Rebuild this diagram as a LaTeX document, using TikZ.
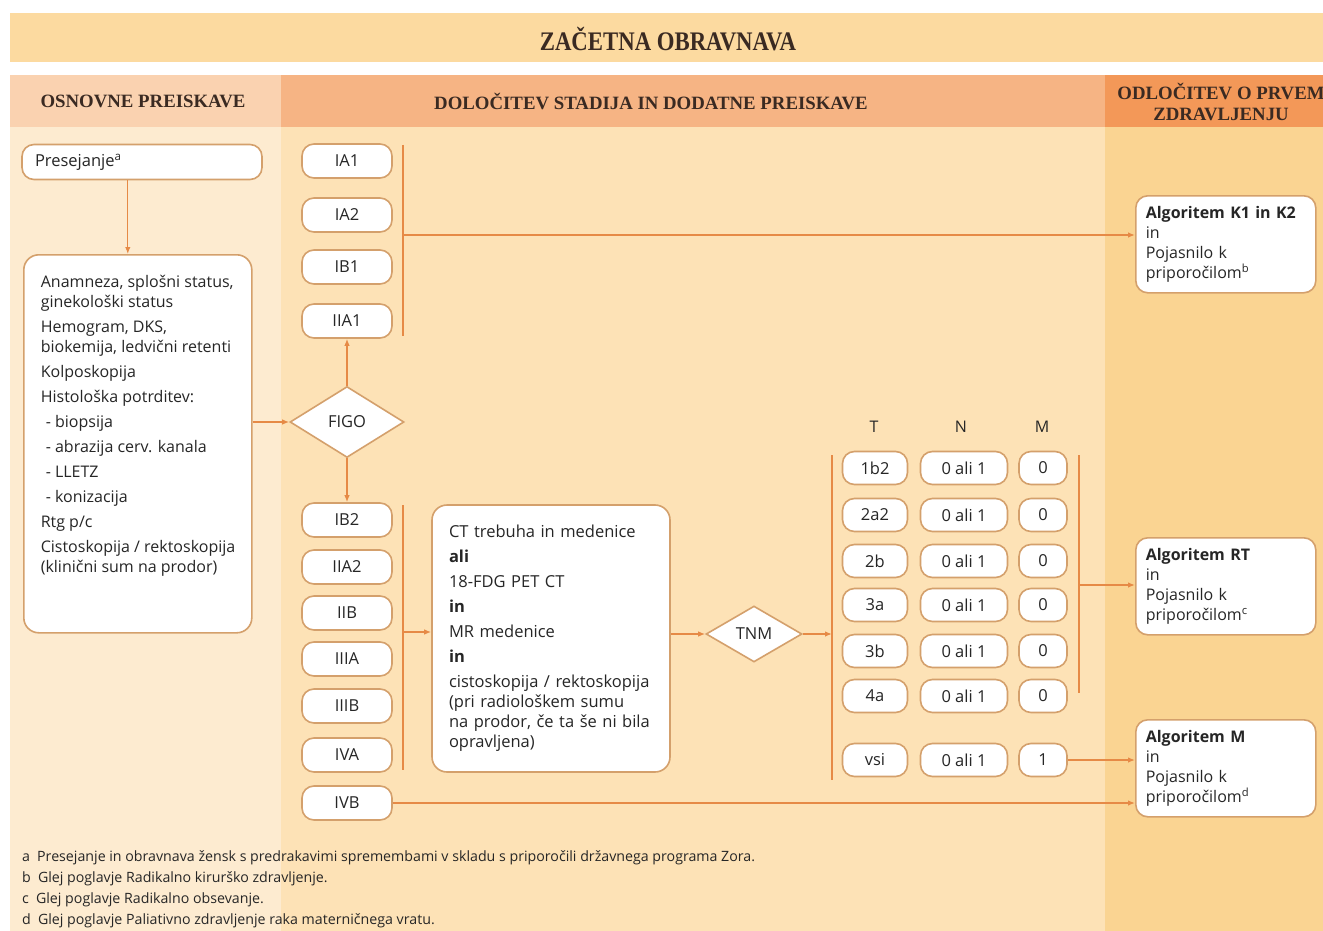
\documentclass[tikz,border=0pt]{standalone}
\usepackage{fontspec}
\setmainfont{Open Sans}
\newfontfamily\headfont{Liberation Serif}
\newfontfamily\titlefont[FakeStretch=0.85]{Liberation Serif}
\usetikzlibrary{shapes.geometric,arrows.meta}

\definecolor{titlebg}{RGB}{252,218,160}
\definecolor{headleft}{RGB}{250,210,176}
\definecolor{headmid}{RGB}{246,180,132}
\definecolor{headright}{RGB}{243,152,88}
\definecolor{bodyleft}{RGB}{253,235,208}
\definecolor{bodymid}{RGB}{253,226,182}
\definecolor{bodyright}{RGB}{250,212,146}
\definecolor{boxline}{RGB}{212,160,108}
\definecolor{flowline}{RGB}{230,138,70}
\definecolor{ink}{RGB}{38,38,38}
\definecolor{headink}{RGB}{58,42,34}

\tikzset{
        every node/.style={text=ink},
        basebox/.style={draw=boxline, fill=white, line width=1.6pt, rounded corners=12pt, font=\fontsize{16.5}{20}\selectfont},
        stage/.style={basebox, minimum width=90pt, minimum height=34pt, inner sep=0pt},
        tval/.style={basebox, minimum width=65pt, minimum height=33pt, inner sep=0pt},
        nval/.style={basebox, minimum width=87pt, minimum height=33pt, inner sep=0pt},
        mval/.style={basebox, minimum width=48pt, minimum height=33pt, inner sep=0pt},
        decision/.style={diamond, draw=boxline, fill=white, line width=1.6pt, inner sep=0pt, font=\fontsize{16.5}{20}\selectfont},
        algo/.style={basebox, font=\fontsize{16}{20}\selectfont, text width=160pt, align=left, minimum height=97pt, inner xsep=10pt, anchor=north west},
        colhead/.style={font=\headfont\bfseries\fontsize{18.8}{21}\selectfont, text=headink, align=center},
        tnmhead/.style={font=\fontsize{16}{18}\selectfont},
        flow/.style={draw=flowline, line width=1.3pt, -{Latex[length=7pt,width=5.5pt]}},
        bar/.style={draw=flowline, line width=1.3pt},
        footnote/.style={font=\fontsize{14.2}{21}\selectfont, align=left, anchor=north west, inner sep=0pt}
          }

\begin{document}
\begin{tikzpicture}[x=1pt, y=-1pt]
  % backgrounds
  \fill[white] (0,0) rectangle (1323,931);
  \fill[titlebg] (10,13) rectangle (1323,62);
  \fill[headleft] (10,75) rectangle (281,127);
  \fill[headmid] (281,75) rectangle (1105,127);
  \fill[headright] (1105,75) rectangle (1323,127);
  \fill[bodyleft] (10,127) rectangle (281,931);
  \fill[bodymid] (281,127) rectangle (1105,931);
  \fill[bodyright] (1105,127) rectangle (1323,931);
  \useasboundingbox (0,0) rectangle (1323,931);

  \node[font=\titlefont\bfseries\fontsize{26.8}{30}\selectfont, text=headink] (title) at (668,39) {ZAČETNA OBRAVNAVA};
  \node[colhead] (hbasic) at (143,101) {OSNOVNE PREISKAVE};
  \node[colhead] (hstage) at (651,101) {DOLOČITEV STADIJA IN DODATNE PREISKAVE};
  \node[colhead] (hdecide) at (1221,102) {ODLOČITEV O PRVEM\\ZDRAVLJENJU};

  % osnovne preiskave
  \node[basebox, text width=214pt, inner xsep=13pt, minimum height=35pt, align=left] (screen) at (142,162) {Presejanje\textsuperscript{a}};
  \node[basebox, anchor=north west, inner xsep=11pt, inner ysep=20pt, rounded corners=15pt, font=\fontsize{16}{20}\selectfont] (exams) at (23,254) {%
    \begin{minipage}[t][338pt][t]{206pt}
    \raggedright\leftskip=6pt
    Anamneza, splošni status,\\
    ginekološki status\\[5pt]
    Hemogram, DKS,\\
    biokemija, ledvični retenti\\[5pt]
    Kolposkopija\\[5pt]
    Histološka potrditev:\\[5pt]
    \hspace*{5pt}- biopsija\\[5pt]
    \hspace*{5pt}- abrazija cerv. kanala\\[5pt]
    \hspace*{5pt}- LLETZ\\[5pt]
    \hspace*{5pt}- konizacija\\[5pt]
    Rtg p/c\\[5pt]
    Cistoskopija / rektoskopija\\
    (klinični sum na prodor)
    \end{minipage}};

  % FIGO
  \node[decision, minimum width=114pt, minimum height=71pt] (figo) at (347,422) {FIGO};
  \node[stage] (ia1) at (347,161) {IA1};
  \node[stage] (ia2) at (347,215) {IA2};
  \node[stage] (ib1) at (347,267) {IB1};
  \node[stage] (iia1) at (347,321) {IIA1};
  \node[stage] (ib2) at (347,520) {IB2};
  \node[stage] (iia2) at (347,567) {IIA2};
  \node[stage] (iib) at (347,613) {IIB};
  \node[stage] (iiia) at (347,659) {IIIA};
  \node[stage] (iiib) at (347,706) {IIIB};
  \node[stage] (iva) at (347,755) {IVA};
  \node[stage] (ivb) at (347,803) {IVB};

  \node[basebox, text width=204pt, inner xsep=17pt, align=left, minimum height=267pt, rounded corners=15pt] (ct) at (551,638.5) {%
    CT trebuha in medenice\\[5pt]
    \textbf{ali}\\[5pt]
    18-FDG PET CT\\[5pt]
    \textbf{in}\\[5pt]
    MR medenice\\[5pt]
    \textbf{in}\\[5pt]
    cistoskopija / rektoskopija\\
    (pri radiološkem sumu\\
    na prodor, če ta še ni bila\\
    opravljena)};

  % TNM
  \node[decision, minimum width=96pt, minimum height=56pt] (tnm) at (754,634) {TNM};
  \node[tnmhead] (th) at (874,427) {T};
  \node[tnmhead] (nh) at (961,427) {N};
  \node[tnmhead] (mh) at (1042,427) {M};
  \node[tval] (t1) at (875,468) {1b2}; \node[nval] (n1) at (964,468) {0 ali 1}; \node[mval] (m1) at (1043,468) {0};
  \node[tval] (t2) at (875,515) {2a2}; \node[nval] (n2) at (964,515) {0 ali 1}; \node[mval] (m2) at (1043,515) {0};
  \node[tval] (t3) at (875,561) {2b};  \node[nval] (n3) at (964,561) {0 ali 1}; \node[mval] (m3) at (1043,561) {0};
  \node[tval] (t4) at (875,605) {3a};  \node[nval] (n4) at (964,605) {0 ali 1}; \node[mval] (m4) at (1043,605) {0};
  \node[tval] (t5) at (875,651) {3b};  \node[nval] (n5) at (964,651) {0 ali 1}; \node[mval] (m5) at (1043,651) {0};
  \node[tval] (t6) at (875,696) {4a};  \node[nval] (n6) at (964,696) {0 ali 1}; \node[mval] (m6) at (1043,696) {0};
  \node[tval] (t7) at (875,760) {vsi}; \node[nval] (n7) at (964,760) {0 ali 1}; \node[mval] (m7) at (1043,760) {1};

  % odlocitev
  \node[algo] (algk) at (1135,195) {\textbf{Algoritem K1 in K2}\\in\\Pojasnilo k\\priporočilom\textsuperscript{b}};
  \node[algo] (algrt) at (1135,537) {\textbf{Algoritem RT}\\in\\Pojasnilo k\\priporočilom\textsuperscript{c}};
  \node[algo] (algm) at (1135,719) {\textbf{Algoritem M}\\in\\Pojasnilo k\\priporočilom\textsuperscript{d}};

  % connectors
  \coordinate (drop) at ([xshift=-10pt]exams.north);
  \coordinate (upT) at (403,145);
  \coordinate (upB) at (403,336);
  \coordinate (upM) at (403,235);
  \coordinate (lowT) at (403,505);
  \coordinate (lowB) at (403,770);
  \coordinate (lowM) at (403,632);
  \coordinate (tnmT) at (832,455);
  \coordinate (tnmB) at (832,780);
  \coordinate (rtT) at (1079,455);
  \coordinate (rtB) at (1079,693);
  \coordinate (rtM) at (1079,585);
  \draw[flow] (drop |- screen.south) -- (drop);
  \draw[flow] (exams.east |- figo) -- (figo.west);
  \draw[flow] (figo.north) -- (iia1.south);
  \draw[flow] (figo.south) -- (ib2.north);
  \draw[bar] (upT) -- (upB);
  \draw[flow] (upM) -- (upM -| algk.west);
  \draw[bar] (lowT) -- (lowB);
  \draw[flow] (lowM) -- (lowM -| ct.west);
  \draw[flow] (ct.east |- tnm) -- (tnm.west);
  \draw[bar] (tnmT) -- (tnmB);
  \draw[flow] (tnm.east) -- (tnm -| tnmT);
  \draw[bar] (rtT) -- (rtB);
  \draw[flow] (rtM) -- (rtM -| algrt.west);
  \draw[flow] (m7.east) -- (m7 -| algm.west);
  \draw[flow] (ivb.east) -- (ivb -| algm.west);

  \node[footnote] (notes) at (22,850) {%
    a\enspace Presejanje in obravnava žensk s predrakavimi spremembami v skladu s priporočili državnega programa Zora.\\
    b\enspace Glej poglavje Radikalno kirurško zdravljenje.\\
    c\enspace Glej poglavje Radikalno obsevanje.\\
    d\enspace Glej poglavje Paliativno zdravljenje raka materničnega vratu.};
\end{tikzpicture}
\end{document}
